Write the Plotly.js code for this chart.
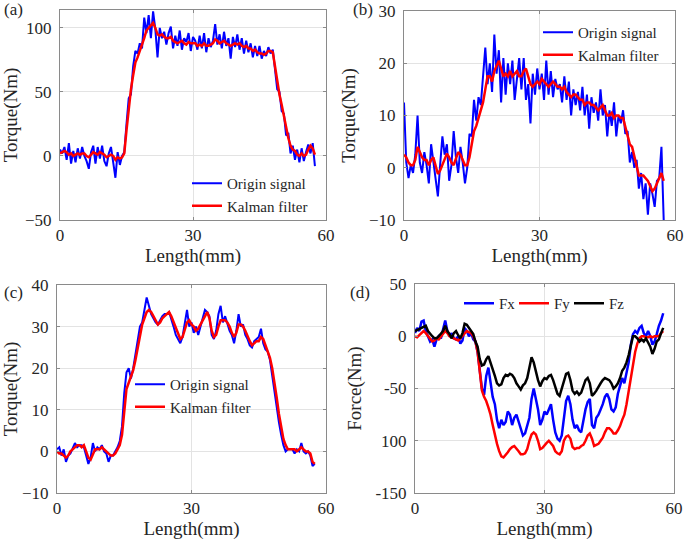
<!DOCTYPE html>
<html><head><meta charset="utf-8">
<script src="https://cdn.plot.ly/plotly-3.0.1.min.js"></script>
<style>html,body{margin:0;padding:0;background:#fff}#chart{width:685px;height:544px}</style>
</head><body><div id="chart"></div>
<script>
// Sampling positions (mm)
const lengthMm = [
 0,0.5,1,1.5,2,2.5,3,3.5,4,4.5,
 5,5.5,6,6.5,7,7.5,8,8.5,9,9.5,
 10,10.5,11,11.5,12,12.5,13,13.5,14,14.5,
 15,15.5,16,16.5,17,17.5,18,18.5,19,19.5,
 20,20.5,21,21.5,22,22.5,23,23.5,24,24.5,
 25,25.5,26,26.5,27,27.5,28,28.5,29,29.5,
 30,30.5,31,31.5,32,32.5,33,33.5,34,34.5,
 35,35.5,36,36.5,37,37.5,38,38.5,39,39.5,
 40,40.5,41,41.5,42,42.5,43,43.5,44,44.5,
 45,45.5,46,46.5,47,47.5,48,48.5,49,49.5,
 50,50.5,51,51.5,52,52.5,53,53.5,54,54.5,
 55,55.5,56,56.5,57,57.5];

// (a) torque
const aOrigin = [
 5,2,7,-3,10,-6,4,-5,6,-2,
 7,0,-4,-10,3,8,-6,7,-2,8,
 -4,-8,2,7,-5,-17,3,-7,0,3,
 25,45,48,70,82,80,88,84,108,96,
 110,92,113,99,77,100,92,97,87,96,
 101,84,94,86,98,83,92,89,96,82,
 93,90,83,94,84,96,81,92,85,90,
 103,87,95,84,97,86,92,76,93,85,
 95,83,92,80,90,81,88,77,86,78,
 86,76,82,78,85,80,83,68,52,50,
 35,33,16,18,2,8,-3,5,-5,6,
 -4,3,9,2,10,-8];
const aKalman = [
 2,3,4,3,1,2,0,1,2,1,
 2,2,0,-1,1,3,2,1,3,2,
 1,-1,0,1,0,-3,-1,-2,-1,2,
 20,38,52,63,73,77,82,86,92,98,
 100,102,104,100,95,94,95,93,92,92,
 93,90,89,88,89,90,88,87,89,88,
 88,88,86,87,86,88,86,86,87,88,
 91,90,88,89,90,88,87,86,87,88,
 87,88,86,85,86,84,84,82,83,81,
 80,80,79,80,82,82,81,70,57,48,
 40,31,23,14,8,5,4,1,0,2,
 0,1,5,8,6,1];

// (b) torque
const bOrigin = [
 12.5,1,-2,0.5,-1,2.5,10,1,-1,3,
 0.5,-3,4.5,1,-2,-5.5,0.5,6,2.5,4.5,
 -2.5,0.5,7,2,-1,4,1,-3,0,6.5,
 6,13,9,13.5,12,18,23,16,20,14.5,
 25.5,18,22.5,12.5,21,14,20,16,20.5,13,
 17,21,15,21,13,16,8.5,18,14,19,
 15,18,13,20.5,14,18.5,13.5,17,15,16,
 12.5,17.5,13,16.5,10,15,12,14.5,11,15.5,
 10,14,7.5,13.5,10.5,12.5,9,15,10,12,
 6,11,8,12.5,6,10,8.5,11,6.5,7,
 1,3,0,1.5,-4,-1,-6,-3,-9,-3,
 -5,-7.5,-2.5,-2,4,-10];
const bKalman = [
 2.5,2,1,0.5,0.5,1.5,4,3,2,1.5,
 1.5,0.5,1.5,2,0.5,-1.2,-0.5,0.5,1.5,2.7,
 2,1,0.5,2,3,2.5,1.5,0.5,0.5,2,
 4.5,7,8,9.5,10.5,12.5,15,17.5,17.5,16.5,
 18.5,19.5,20.5,19,17.5,18,17.5,18.5,17.5,18,
 18.5,17.5,17.5,18.5,19,17.5,16,15.5,16,16.5,
 16,17,16.5,16,15.5,16,16.5,16,15.5,15.5,
 15,15.5,14.5,14,13.5,14,14,13.5,13,13,
 12,12.5,12.5,12,12,11.5,11,11.5,12,11,
 10,10,10.5,9.5,10,10,9.5,9.5,8,6,
 4.5,4,2,0,-1.5,-1.5,-1.5,-2,-2.5,-3.5,
 -4.5,-4,-3,-2,-1,-2.5];

// (c) torque
const cOrigin = [
 0.5,1,-1,0.5,-2.5,-1,-0.5,1,2,1,
 1.5,1.5,1,-1,-3,-1.5,2,0,1,0.5,
 1.5,0,-0.5,-2.5,-1,-1,0,1,2.5,6,
 14,19,20,17.5,20,23,27,30,31,34,
 37,35,33,32,31,30.5,31.5,32.5,33,33,
 33.5,32,30,28,27,26,27.5,30.5,34,30,
 31,28.5,30,28,30,32,34,33.5,32.5,28,
 27,29,33,35,31,32.5,30.5,29,28,26,
 29,33,30,30.5,28,27,25.5,25,26.5,27,
 27.5,29.5,26,24.5,24,22,18,15,11,7,
 4,1.5,0,0.5,0.5,0.5,-0.5,0.5,0,2,
 0,-0.5,0,-1,-3.5,-3];
const cKalman = [
 0,-0.5,-0.5,-1,-1.5,-1,0,0.5,1,1.5,
 1.5,1,1.5,0,-1.5,-2,-0.5,0.5,0.5,0.5,
 1,0.5,0,-0.5,-1,-1,-0.5,0.5,1.5,4,
 9,15,16.5,18,19.5,22,25,28,30.5,32,
 33.5,34,33.5,32.5,31.5,30.5,31,32,32.5,33,
 33.5,32.5,31,29.5,28,27,27.5,29,31,31.5,
 30.5,30,29,29.5,30.5,31.5,32.5,33.5,32,29,
 27.5,28,30,31.5,31.5,31.5,31,30,28.5,27.5,
 28.5,30.5,30.5,30,29,27.5,26.5,25.5,26,26.5,
 26.5,27.5,27,25.5,24,22.5,20,17,13,9,
 5.5,3,1.5,0.5,0.5,0.5,0.5,0,0.5,1,
 0.5,0,0,-0.5,-2.5,-3];

// (d) forces
const dFx = [
 3,8,5,14,15,5,0,-5,-3,-10,
 -3,0,-2,8,15,5,0,3,-2,-3,
 0,-7,-4,8,5,0,3,-3,-5,-15,
 -30,-50,-56,-38,-30,-42,-58,-65,-80,-88,
 -80,-85,-82,-72,-75,-85,-78,-75,-82,-88,
 -95,-93,-85,-78,-60,-50,-60,-70,-85,-80,
 -72,-75,-70,-65,-80,-92,-98,-100,-95,-80,
 -62,-57,-65,-80,-88,-85,-90,-92,-80,-70,
 -63,-60,-85,-88,-78,-75,-70,-65,-58,-55,
 -60,-70,-72,-68,-55,-48,-40,-45,-35,-25,
 -8,2,5,3,8,10,3,0,5,0,
 -8,-5,2,10,15,22];
const dFy = [
 0,-1,1,3,5,3,0,-3,-5,-4,
 -2,-3,0,3,5,3,0,-1,-2,-3,
 -4,-2,0,3,5,4,3,0,-5,-15,
 -35,-52,-58,-62,-68,-75,-85,-95,-103,-110,
 -115,-116,-114,-111,-108,-106,-105,-107,-110,-113,
 -113,-112,-108,-100,-94,-92,-94,-100,-108,-107,
 -104,-102,-100,-102,-105,-110,-112,-113,-110,-100,
 -96,-95,-98,-106,-108,-107,-107,-105,-104,-100,
 -95,-93,-98,-105,-104,-103,-100,-97,-92,-88,
 -88,-90,-93,-93,-90,-86,-80,-75,-65,-52,
 -40,-28,-15,-7,-2,0,0,-1,-1,0,
 -1,0,0,0,3,5];
const dFz = [
 5,6,7,8,9,10,5,2,0,-2,
 -2,0,2,5,10,5,2,-2,3,5,
 1,-2,3,12,11,8,5,2,-5,-10,
 -22,-28,-27,-22,-19,-25,-30,-38,-45,-47,
 -46,-40,-37,-38,-36,-37,-40,-45,-48,-51,
 -47,-45,-40,-28,-20,-25,-35,-42,-48,-43,
 -40,-41,-38,-37,-42,-48,-55,-57,-50,-42,
 -36,-35,-42,-52,-55,-53,-56,-54,-48,-42,
 -40,-45,-57,-55,-52,-48,-45,-42,-40,-41,
 -42,-45,-50,-48,-45,-40,-33,-30,-25,-18,
 -8,0,0,-2,-5,-3,-5,-2,-6,-10,
 -17,-12,-5,-3,3,8];

const xTicks = [0, 30, 60];
const aTicks = [-50, 0, 50, 100];
const bTicks = [-10, 0, 10, 20, 30];
const cTicks = [-10, 0, 10, 20, 30, 40];
const dTicks = [50, 0, -50, -100, -150];
const dTickText = ['50', '0', '-50', '100', '-150'];

const FONT = '"Liberation Serif", "Times New Roman", serif';
const TXT = '#262626';
const W = 685, H = 544;
const px = v => v / W;
const py = v => 1 - v / H;

function xAxis(dom, anchor) {
  return {
    domain: dom, anchor: anchor, range: [0, 60], tickvals: xTicks,
    showline: true, mirror: 'ticks', linecolor: '#8a8a8a', linewidth: 1,
    ticks: 'inside', ticklen: 3, tickcolor: '#8a8a8a',
    showgrid: true, gridcolor: '#e3e3e3', gridwidth: 1, zeroline: false,
    tickfont: {family: FONT, size: 17, color: TXT},
    title: {text: 'Length(mm)', font: {family: FONT, size: 19, color: TXT}, standoff: 2},
    automargin: false
  };
}
function yAxis(dom, anchor, range, ticks, text, title) {
  const ax = {
    domain: dom, anchor: anchor, range: range, tickvals: ticks,
    showline: true, mirror: 'ticks', linecolor: '#8a8a8a', linewidth: 1,
    ticks: 'inside', ticklen: 3, tickcolor: '#8a8a8a',
    showgrid: true, gridcolor: '#e3e3e3', gridwidth: 1, zeroline: false,
    tickfont: {family: FONT, size: 17, color: TXT}, ticklabelstandoff: 4,
    title: {text: title, font: {family: FONT, size: 19, color: TXT}, standoff: 8},
    automargin: false
  };
  if (text) ax.ticktext = text;
  return ax;
}

const blue = '#0000ff', red = '#ff0000', black = '#000000';
const traces = [
  {x: lengthMm, y: aOrigin, xaxis: 'x', yaxis: 'y', name: 'Origin signal', legend: 'legend', mode: 'lines', line: {color: blue, width: 2}},
  {x: lengthMm, y: aKalman, xaxis: 'x', yaxis: 'y', name: 'Kalman filter', legend: 'legend', mode: 'lines', line: {color: red, width: 2.5}},
  {x: lengthMm, y: bOrigin, xaxis: 'x2', yaxis: 'y2', name: 'Origin signal', legend: 'legend2', mode: 'lines', line: {color: blue, width: 2}},
  {x: lengthMm, y: bKalman, xaxis: 'x2', yaxis: 'y2', name: 'Kalman filter', legend: 'legend2', mode: 'lines', line: {color: red, width: 2.5}},
  {x: lengthMm, y: cOrigin, xaxis: 'x3', yaxis: 'y3', name: 'Origin signal', legend: 'legend3', mode: 'lines', line: {color: blue, width: 2}},
  {x: lengthMm, y: cKalman, xaxis: 'x3', yaxis: 'y3', name: 'Kalman filter', legend: 'legend3', mode: 'lines', line: {color: red, width: 2.5}},
  {x: lengthMm, y: dFx, xaxis: 'x4', yaxis: 'y4', name: 'Fx', legend: 'legend4', mode: 'lines', line: {color: blue, width: 2.5}},
  {x: lengthMm, y: dFy, xaxis: 'x4', yaxis: 'y4', name: 'Fy', legend: 'legend4', mode: 'lines', line: {color: red, width: 2.5}},
  {x: lengthMm, y: dFz, xaxis: 'x4', yaxis: 'y4', name: 'Fz', legend: 'legend4', mode: 'lines', line: {color: black, width: 2.5}}
];

function leg(x, y, orient, ew) {
  const l = {x: x, y: y, xanchor: 'left', yanchor: 'top', orientation: orient || 'v',
    bgcolor: 'rgba(0,0,0,0)', borderwidth: 0, itemwidth: 30, tracegroupgap: 0,
    font: {family: FONT, size: 15, color: TXT}};
  if (ew) { l.entrywidth = ew; l.entrywidthmode = 'pixels'; }
  return l;
}

const lab = (t, x, y) => ({text: t, x: px(x), y: py(y), xref: 'paper', yref: 'paper',
  xanchor: 'left', yanchor: 'middle', showarrow: false, font: {family: FONT, size: 17, color: TXT}});

const layout = {
  width: W, height: H, margin: {l: 0, r: 0, t: 0, b: 0},
  paper_bgcolor: '#fff', plot_bgcolor: '#fff', showlegend: true,
  xaxis: xAxis([px(60), px(326)], 'y'),
  yaxis: yAxis([py(220), py(10)], 'x', [-50, 114], aTicks, null, 'Torque(Nm)'),
  xaxis2: xAxis([px(404), px(675)], 'y2'),
  yaxis2: yAxis([py(220), py(11)], 'x2', [-10, 30], bTicks, null, 'Torque(Nm)'),
  xaxis3: xAxis([px(57), px(326)], 'y3'),
  yaxis3: yAxis([py(493), py(285)], 'x3', [-10, 40], cTicks, null, 'Torque(Nm)'),
  xaxis4: xAxis([px(415), px(674)], 'y4'),
  yaxis4: yAxis([py(493), py(284)], 'x4', [-150, 50], dTicks, dTickText, 'Force(Nm)'),
  legend: leg(px(187), py(167)),
  legend2: leg(px(538), py(16)),
  legend3: leg(px(130), py(368)),
  legend4: leg(px(459), py(287), 'h', 10),
  annotations: [lab('(a)', 2, 9), lab('(b)', 351, 9), lab('(c)', 2, 292), lab('(d)', 348, 292)]
};

Plotly.newPlot('chart', traces, layout, {staticPlot: true, displayModeBar: false});
</script></body></html>
